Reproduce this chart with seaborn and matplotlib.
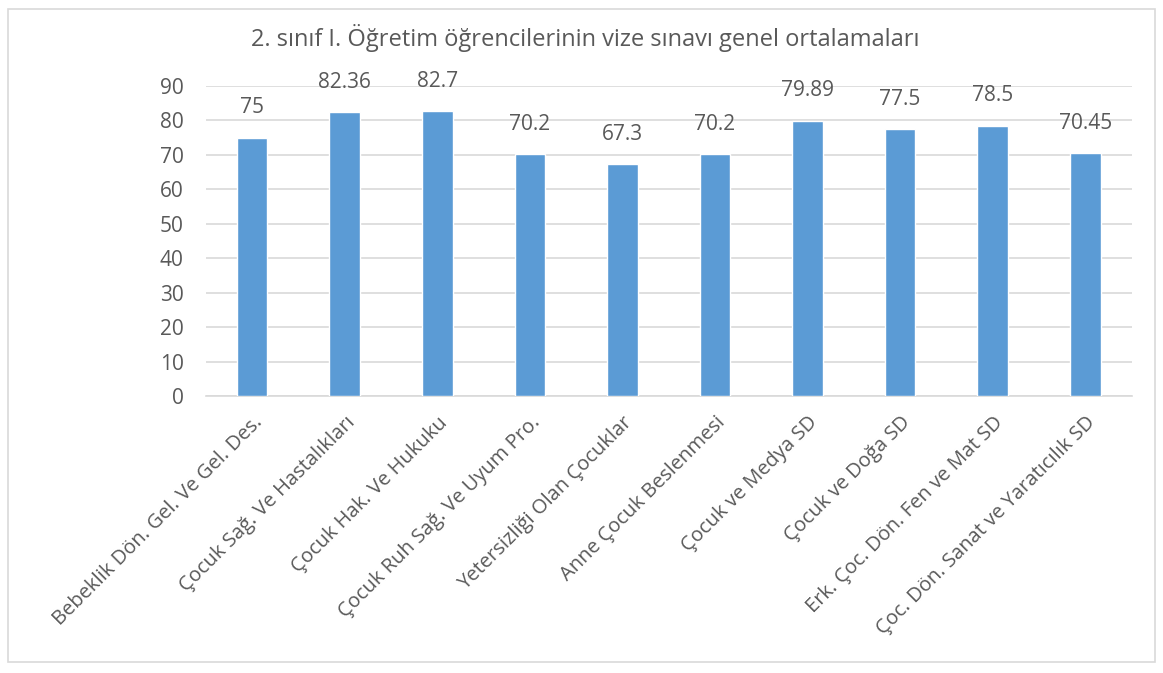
import matplotlib
matplotlib.use("Agg")

import pandas as pd
import matplotlib.pyplot as plt
import seaborn as sns
from matplotlib.patches import Rectangle

# -----------------------------
# Data
# -----------------------------

dersler = [
    "Bebeklik Dön. Gel. Ve Gel. Des.",
    "Çocuk Sağ. Ve Hastalıkları",
    "Çocuk Hak. Ve Hukuku",
    "Çocuk Ruh Sağ. Ve Uyum Pro.",
    "Yetersizliği Olan Çocuklar",
    "Anne Çocuk Beslenmesi",
    "Çocuk ve Medya SD",
    "Çocuk ve Doğa SD",
    "Erk. Çoc. Dön. Fen ve Mat SD",
    "Çoc. Dön. Sanat ve Yaratıcılık SD",
]

ortalamalar = [75, 82.36, 82.7, 70.2, 67.3, 70.2, 79.89, 77.5, 78.5, 70.45]
etiketler = ["75", "82.36", "82.7", "70.2", "67.3", "70.2", "79.89", "77.5", "78.5", "70.45"]
y_ticks = [0, 10, 20, 30, 40, 50, 60, 70, 80, 90]

baslik = "2. sınıf I. Öğretim öğrencilerinin vize sınavı genel ortalamaları"

df = pd.DataFrame({"ders": dersler, "ortalama": ortalamalar})

# -----------------------------
# Plot
# -----------------------------

sns.set_style("white")
plt.rcParams["font.family"] = ["Open Sans", "DejaVu Sans"]

text_color = "#595959"
grid_color = "#D9D9D9"

fig = plt.figure(figsize=(11.63, 6.73), dpi=100)
ax = fig.add_axes([0.177, 0.4116, 0.796, 0.4606])

sns.barplot(
    data=df,
    x="ders",
    y="ortalama",
    color="#5B9BD5",
    width=0.33,
    saturation=1,
    ax=ax,
    zorder=3,
)

ax.set_ylim(0, 90)
ax.set_xlim(-0.5, len(dersler) - 0.5)
ax.set_yticks(y_ticks)
ax.yaxis.grid(True, color=grid_color, linewidth=1.2, zorder=0)
ax.set_axisbelow(True)

for side in ["top", "right", "left"]:
    ax.spines[side].set_visible(False)
ax.spines["bottom"].set_color(grid_color)
ax.spines["bottom"].set_linewidth(1.2)

ax.tick_params(axis="both", length=0, colors=text_color)
ax.tick_params(axis="y", pad=16, labelsize=15)
ax.set_xticks(range(len(dersler)))
ax.set_xticklabels(dersler, rotation=45, ha="right", rotation_mode="anchor")
ax.tick_params(axis="x", pad=12, labelsize=14.5)
ax.set_xlabel("")
ax.set_ylabel("")

for container in ax.containers:
    ax.bar_label(container, labels=etiketler, padding=14, fontsize=15, color=text_color)

fig.text(0.503, 0.943, baslik, ha="center", va="center", fontsize=17, color=text_color)

# outer chart border
fig.patches.append(
    Rectangle((0.007, 0.017), 0.986, 0.97, transform=fig.transFigure,
              fill=False, edgecolor=grid_color, linewidth=1.2)
)

plt.savefig("out.png", dpi=100, facecolor="white")
plt.close()
